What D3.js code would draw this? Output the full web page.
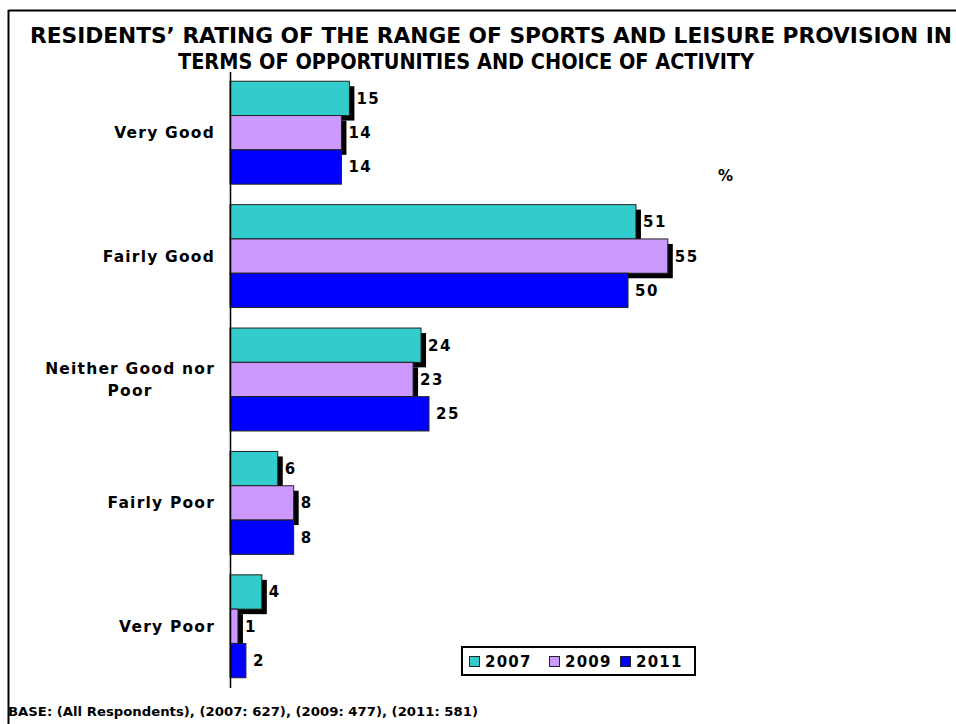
<!DOCTYPE html>
<html>
<head>
<meta charset="utf-8">
<script src="https://cdn.jsdelivr.net/npm/d3@7"></script>
<style>
  html, body { margin: 0; padding: 0; background: #fff; }
  svg { display: block; }
</style>
</head>
<body>
<svg id="chart" width="956" height="724"></svg>
<script>
const categories = ["Very Good", "Fairly Good", "Neither Good nor Poor", "Fairly Poor", "Very Poor"];
const categoryLines = [["Very Good"], ["Fairly Good"], ["Neither Good nor", "Poor"], ["Fairly Poor"], ["Very Poor"]];
const seriesNames = ["2007", "2009", "2011"];
const values2007 = [15, 51, 24, 6, 4];
const values2009 = [14, 55, 23, 8, 1];
const values2011 = [14, 50, 25, 8, 2];
const titleLines = ["RESIDENTS\u2019 RATING OF THE RANGE OF SPORTS AND LEISURE PROVISION IN",
                    "TERMS OF OPPORTUNITIES AND CHOICE OF ACTIVITY"];
const footnote = "BASE: (All Respondents), (2007: 627),  (2009: 477), (2011: 581)";
const unitLabel = "%";

const seriesValues = [values2007, values2009, values2011];
const colors = ["#33CCCC", "#CC99FF", "#0000FF"];
const hasShadow = [true, true, false];

const svg = d3.select("#chart");
const labelFont = "'DejaVu Sans', Verdana, sans-serif";

// Frame (top and left lines)
svg.append("line").attr("x1", 8.5).attr("x2", 956).attr("y1", 10.5).attr("y2", 10.5)
  .attr("stroke", "#000").attr("stroke-width", 2);
svg.append("line").attr("x1", 8.5).attr("x2", 8.5).attr("y1", 10).attr("y2", 724)
  .attr("stroke", "#000").attr("stroke-width", 2);

// Title
const titleSpans = [[30, 952], [178, 754]];
titleLines.forEach((t, i) => {
  const [a, b] = titleSpans[i];
  svg.append("text")
    .attr("x", a).attr("y", 43 + i * 26)
    .attr("font-family", labelFont)
    .attr("font-weight", "bold")
    .attr("font-size", 21)
    .attr("textLength", b - a)
    .attr("lengthAdjust", "spacingAndGlyphs")
    .text(t);
});

// Scales
const x0 = 230;
const x = d3.scaleLinear().domain([0, 55]).range([x0, x0 + 55 * 7.96]);
const y = d3.scaleBand().domain(categories).range([71, 688]).paddingInner(0.166).paddingOuter(0.083);
const ySub = d3.scaleBand().domain(seriesNames).range([0, y.bandwidth()]).padding(0);

const shadowOff = 5;
const g = svg.append("g");

seriesNames.forEach((s, si) => {
  const data = categories.map((c, ci) => ({ c, v: seriesValues[si][ci] }));
  const sg = g.append("g");
  if (hasShadow[si]) {
    sg.selectAll("rect.shadow").data(data).enter().append("rect")
      .attr("class", "shadow")
      .attr("x", x(0) + shadowOff)
      .attr("y", d => y(d.c) + ySub(s) + shadowOff)
      .attr("width", d => x(d.v) - x(0))
      .attr("height", ySub.bandwidth())
      .attr("fill", "#000");
  }
  sg.selectAll("rect.bar").data(data).enter().append("rect")
    .attr("class", "bar")
    .attr("x", x(0))
    .attr("y", d => y(d.c) + ySub(s))
    .attr("width", d => x(d.v) - x(0))
    .attr("height", ySub.bandwidth())
    .attr("fill", colors[si])
    .attr("stroke", "#222")
    .attr("stroke-width", 1);
});

// Value labels
seriesNames.forEach((s, si) => {
  const data = categories.map((c, ci) => ({ c, v: seriesValues[si][ci] }));
  g.selectAll("text.val" + si).data(data).enter().append("text")
    .attr("x", d => x(d.v) + 7)
    .attr("y", d => y(d.c) + ySub(s) + ySub.bandwidth() / 2)
    .attr("dy", "0.36em")
    .attr("font-family", labelFont)
    .attr("font-weight", "bold")
    .attr("font-size", 15)
    .attr("letter-spacing", 1.5)
    .text(d => d.v);
});

// Category axis line
svg.append("line").attr("x1", x0 + 0.5).attr("x2", x0 + 0.5).attr("y1", 72).attr("y2", 688)
  .attr("stroke", "#000").attr("stroke-width", 1.5);

// Category labels
categories.forEach((c, ci) => {
  const lines = categoryLines[ci];
  const cy = y(c) + y.bandwidth() / 2;
  const lh = 22;
  const t = svg.append("text")
    .attr("font-family", labelFont)
    .attr("font-weight", "bold")
    .attr("font-size", 15.5)
    .attr("letter-spacing", 1.2);
  const spans = lines.map((l, li) => t.append("tspan").text(l));
  const widths = spans.map(sp => sp.node().getComputedTextLength());
  const maxW = d3.max(widths);
  const cx = 215 - maxW / 2;
  spans.forEach((sp, li) => {
    sp.attr("x", cx).attr("text-anchor", "middle")
      .attr("y", cy + (li - (lines.length - 1) / 2) * lh)
      .attr("dy", "0.36em");
  });
});

// Unit label
svg.append("text").attr("x", 718).attr("y", 176).attr("dy", "0.36em")
  .attr("font-family", labelFont).attr("font-weight", "bold").attr("font-size", 15)
  .text(unitLabel);

// Legend
const lg = svg.append("g");
lg.append("rect").attr("x", 462).attr("y", 647).attr("width", 233).attr("height", 28)
  .attr("fill", "#fff").attr("stroke", "#000").attr("stroke-width", 2);
const legX = [469, 549, 620];
seriesNames.forEach((s, si) => {
  lg.append("rect").attr("x", legX[si] + 0.5).attr("y", 656.5).attr("width", 10).attr("height", 10)
    .attr("fill", colors[si]).attr("stroke", "#222").attr("stroke-width", 1);
  lg.append("text").attr("x", legX[si] + 16).attr("y", 661.5).attr("dy", "0.36em")
    .attr("font-family", labelFont).attr("font-weight", "bold").attr("font-size", 15)
    .attr("letter-spacing", 1.2)
    .text(s);
});

// Footnote
svg.append("text").attr("x", 8).attr("y", 716)
  .attr("font-family", labelFont)
  .attr("font-weight", "bold").attr("font-size", 13)
  .attr("textLength", 470).attr("lengthAdjust", "spacingAndGlyphs")
  .text(footnote);
</script>
</body>
</html>
